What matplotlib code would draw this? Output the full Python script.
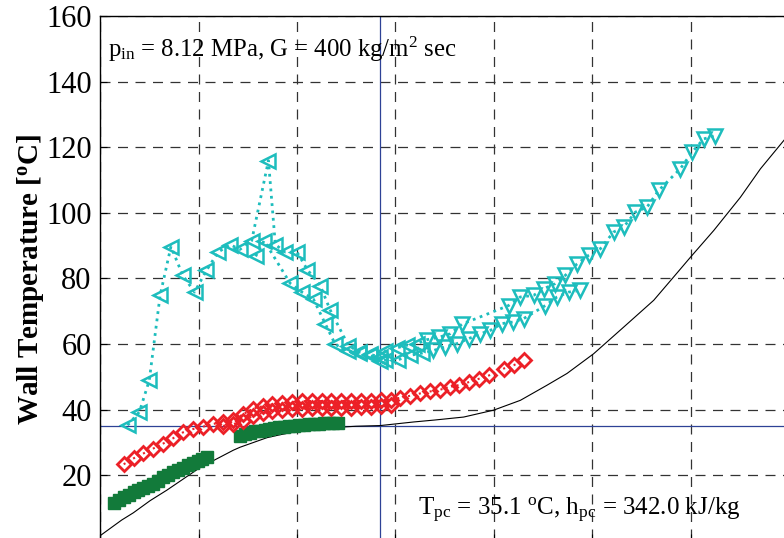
import numpy as np
import matplotlib
matplotlib.use("Agg")
import matplotlib.pyplot as plt

plt.rcParams['font.family'] = ['Liberation Serif', 'DejaVu Serif']
plt.rcParams['mathtext.fontset'] = 'custom'
plt.rcParams['mathtext.rm'] = 'Liberation Serif'
plt.rcParams['mathtext.it'] = 'Liberation Serif:italic'
plt.rcParams['mathtext.bf'] = 'Liberation Serif:bold'

# pseudo-critical point
H_PC = 342.0
T_PC = 35.1

# bulk fluid temperature vs enthalpy
bulk_h = [200, 211, 216.9, 225.4, 233.9, 250.8, 267.7, 271.1, 284.7, 291.4, 301.6,
          311.8, 318.5, 330, 342.2, 359.2, 370, 384.6, 399.8, 413.4, 426.9, 437.1,
          450.6, 465.8, 481.1, 491.2, 499.7, 511.6, 525.1, 535.3, 547.1, 552]
bulk_t = [1.5, 6.3, 8.5, 12.2, 15.4, 22.3, 27.6, 28.5, 31.4, 32.3, 33.5,
          34.1, 34.5, 34.9, 35.1, 36.2, 36.8, 37.7, 39.8, 42.8, 47.4, 51.0,
          57.0, 65.1, 73.3, 80.4, 86.4, 94.6, 104.7, 113.4, 122.0, 125.5]

# wall temperature, upper branch (cyan)
cyan_a_h = [214, 220, 225, 230.5, 236, 242, 248, 254, 260, 266, 271, 277, 285.5,
            289, 294, 300, 305.3, 311.8, 316.8, 326.1, 331.7, 337.2, 342.2,
            344.8, 350.7, 355.8, 360.9, 366, 371.9, 377.8, 383.7,
            407.4, 413.3, 420.1, 425.2, 431.1, 436.2, 442.2, 448, 454, 460.7,
            465.8, 471.8, 477.7, 483.6, 494.6, 500.5, 506.4, 512.4]
cyan_a_t = [35.2, 39.3, 48.9, 74.8, 89.7, 80.9, 75.8, 82.4, 88.0, 90.3, 88.8, 91.5, 115.9,
            90.3, 88.0, 88.0, 82.6, 77.8, 70.4, 59.5, 57.5, 56.8, 56.0,
            57.8, 58.8, 59.6, 60.1, 61.3, 62.0, 63.1, 66.0,
            71.7, 74.3, 74.8, 76.8, 78.4, 80.9, 84.4, 87.0, 89.0, 94.1,
            95.6, 100.2, 101.7, 106.8, 113.4, 118.4, 122.5, 123.5]

# wall temperature, lower branch (cyan)
cyan_b_h = [279, 283.3, 296.5, 302.5, 308.4, 314.3, 319.4, 326.1, 331.7, 337.2, 342.2,
            344.8, 351.5, 357.5, 363.4, 369.3, 375.3, 381.2, 387.1, 393, 398.1,
            404, 409.9, 415, 426.1, 432, 437.9, 443.8]
cyan_b_t = [86.7, 91.5, 78.5, 75.8, 73.6, 66.2, 59.9, 57.7, 57.2, 56.5, 54.8,
            55.0, 55.2, 56.5, 57.2, 58.0, 59.1, 60.1, 61.6, 63.1, 64.1,
            66.2, 66.7, 67.7, 71.7, 74.3, 75.8, 76.3]
CYAN_SPLIT_H = 364.0

# wall temperature (red)
red_a_h = [212, 217, 222, 227, 232, 237, 242, 247, 252.5, 257.5, 262.5, 267.5, 272.5,
           277.5, 282.5, 287.5, 292.5, 297.5, 302.5, 307.5, 312.5, 317.5, 322.5, 327.5,
           332.5, 337.5, 342.5, 347.5, 352.5, 357.5, 362.5, 367.5, 372.5, 377.5, 382.5,
           387.5, 392.5, 397.5, 405, 410, 415]
red_a_t = [23.3, 25.1, 26.6, 28.1, 29.6, 31.2, 33.0, 34.0, 34.8, 35.6, 36.2, 36.7, 38.5,
           40.2, 41.0, 41.6, 42.0, 42.3, 42.5, 42.6, 42.6, 42.5, 42.6, 42.7,
           42.6, 42.7, 42.8, 43.0, 43.6, 44.2, 44.9, 45.5, 46.0, 46.9, 47.5,
           48.4, 49.4, 50.4, 52.5, 53.5, 55.0]
red_b_h = [262.5, 267.5, 272.5, 277.5, 282.5, 287.5, 292.5, 297.5, 302.5, 307.5,
           312.5, 317.5, 322.5, 327.5, 332.5, 337.5, 342.5, 347.5]
red_b_t = [35.0, 35.5, 36.5, 38.0, 39.0, 39.6, 40.0, 40.2, 40.3, 40.4,
           40.4, 40.5, 40.5, 40.6, 40.7, 40.8, 41.0, 41.3]

# wall temperature (green)
green_h = [207, 209.5, 212, 214.5, 217, 219.5, 222, 224.5, 227, 229.5, 232, 234.5,
           237, 239.5, 242, 244.5, 247, 249.5, 252, 254.5,
           271, 273.5, 276, 278.5, 281, 283.5, 286, 288.5, 291, 293.5, 296, 298.5,
           301, 303.5, 306, 308.5, 311, 313.5, 316, 318.5, 321]
green_t = [11.5, 12.3, 13.2, 14.0, 14.7, 15.4, 16.0, 16.7, 17.4, 18.2, 19.3, 20.1,
           20.9, 21.6, 22.3, 23.0, 23.6, 24.2, 24.8, 25.4,
           32.0, 32.5, 32.9, 33.3, 33.6, 33.9, 34.2, 34.4, 34.6, 34.8, 35.0, 35.1,
           35.3, 35.4, 35.5, 35.6, 35.7, 35.8, 35.9, 35.9, 36.0]
GREEN_GAP_AFTER = 19

yticks = [20, 40, 60, 80, 100, 120, 140, 160]

CYAN = '#1dbdbd'
RED = '#ec2027'
GREEN = '#127a3a'
NAVY = '#2e4296'

fig = plt.figure(figsize=(7.84, 5.38), dpi=100)
ax = fig.add_axes([0.1276, -0.005, 0.8793, 0.9753])

ax.set_xlim(200, 550)
ax.set_ylim(0, 160)
ax.set_xticks(np.arange(200, 551, 50))
ax.set_yticks(yticks)
ax.tick_params(axis='y', direction='in', length=5, labelsize=22, pad=6)
ax.tick_params(axis='x', direction='in', length=5, labelbottom=False)
ax.grid(True, color='#333333', linestyle=(0, (8, 6)), linewidth=0.9)
for s in ['left', 'top']:
    ax.spines[s].set_linewidth(1.0)

# pseudo-critical reference lines
ax.axvline(H_PC, color=NAVY, lw=0.9, zorder=2)
ax.axhline(T_PC, color=NAVY, lw=0.9, zorder=2)

ax.plot(bulk_h, bulk_t, color='black', lw=0.8, zorder=3)

# green squares (filled), two runs with a gap
g_h = np.array(green_h)
g_t = np.array(green_t)
for sl in [slice(0, GREEN_GAP_AFTER + 1), slice(GREEN_GAP_AFTER + 1, None)]:
    ax.plot(g_h[sl], g_t[sl], color=GREEN, lw=1, marker='s', ms=9,
            mfc=GREEN, mec=GREEN, zorder=4)

# red diamonds
for hh, tt in [(red_a_h, red_a_t), (red_b_h, red_b_t)]:
    ax.plot(hh, tt, color=RED, ls=':', lw=1.5, marker='D', ms=7,
            mfc='none', mec=RED, mew=2.0, zorder=5)

# cyan triangles, dotted connectors
for hh, tt in [(cyan_a_h, cyan_a_t), (cyan_b_h, cyan_b_t)]:
    hh = np.array(hh)
    tt = np.array(tt)
    ax.plot(hh, tt, color=CYAN, ls=':', lw=2.0, zorder=6)
    left = hh <= CYAN_SPLIT_H
    ax.plot(hh[left], tt[left], ls='none', marker='<', ms=10.5, mfc='none',
            mec=CYAN, mew=1.8, zorder=7)
    ax.plot(hh[~left], tt[~left], ls='none', marker='v', ms=10.5, mfc='none',
            mec=CYAN, mew=1.8, zorder=7)

ax.set_ylabel(r'Wall Temperature [$^{\mathbf{o}}$C]', fontsize=21,
              fontweight='bold')
ax.yaxis.set_label_coords(-0.078, 0.497)

ax.text(0.012, 0.921, r'p$_{\rm in}$ = 8.12 MPa, G = 400 kg/m$^2$ sec',
        transform=ax.transAxes, fontsize=17.8, va='baseline', ha='left')
ax.text(0.461, 0.049, r'T$_{\rm pc}$ = 35.1 $^{\rm o}$C, h$_{\rm pc}$ = 342.0 kJ/kg',
        transform=ax.transAxes, fontsize=18, va='baseline', ha='left')

fig.savefig('out.png', dpi=100)
